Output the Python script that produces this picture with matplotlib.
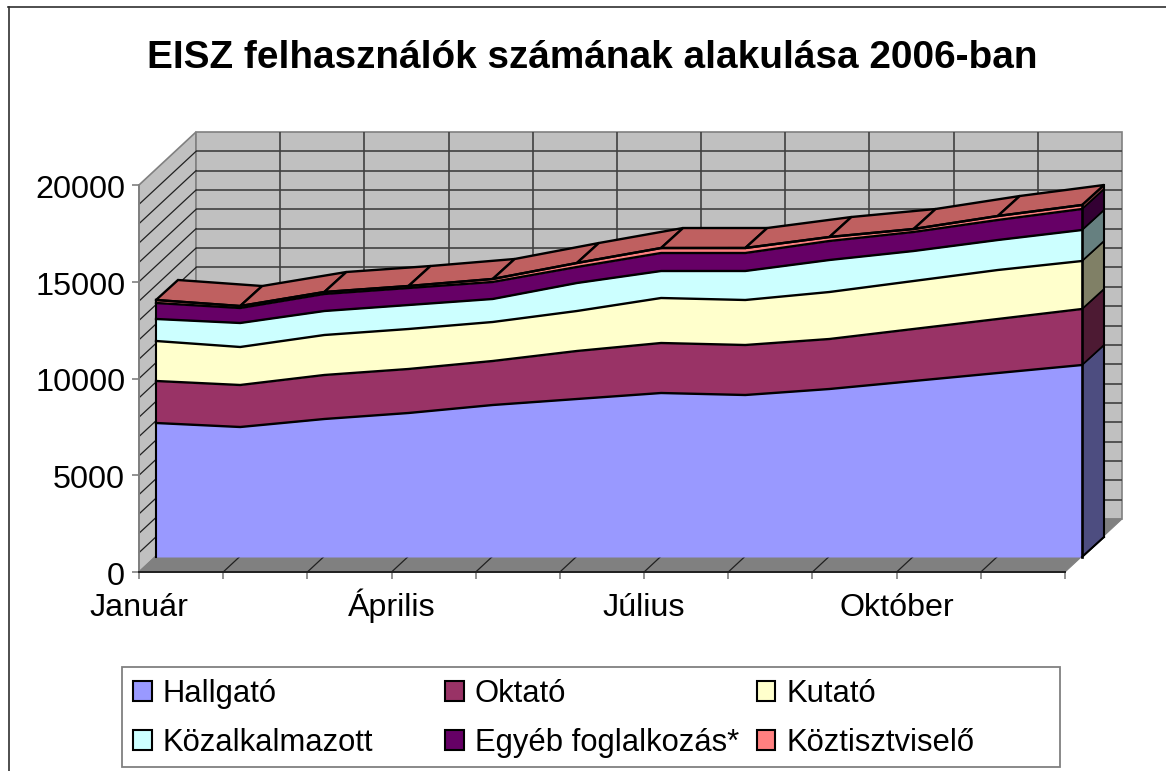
import matplotlib
matplotlib.use("Agg")
import matplotlib.pyplot as plt
from matplotlib.patches import Patch, Polygon, Rectangle
from matplotlib.transforms import Affine2D
import numpy as np

plt.rcParams['font.family'] = ['Liberation Sans', 'DejaVu Sans']

months = ["Január", "", "", "Április", "", "", "Július", "", "", "Október", "", ""]
hallgato = [6925, 6718, 7132, 7442, 7855, 8165, 8475, 8372, 8682, 9096, 9509, 9922]
oktato = [2171, 2171, 2274, 2274, 2274, 2481, 2584, 2584, 2584, 2687, 2791, 2894]
kutato = [2067, 1964, 2067, 2067, 2016, 2067, 2326, 2326, 2429, 2481, 2532, 2481]
kozalk = [1137, 1240, 1240, 1240, 1189, 1447, 1395, 1499, 1654, 1550, 1550, 1602]
egyeb = [827, 775, 879, 879, 879, 827, 930, 930, 982, 982, 1034, 1085]
kozt = [155, 103, 103, 103, 155, 207, 258, 258, 207, 155, 207, 207]
names = ["Hallgató", "Oktató", "Kutató", "Közalkalmazott", "Egyéb foglalkozás*", "Köztisztviselő"]
series = [hallgato, oktato, kutato, kozalk, egyeb, kozt]
colors = ["#9999FF", "#993366", "#FFFFCC", "#CCFFFF", "#660066", "#FF8080"]
side_colors = ["#4D4D80", "#4D1A33", "#808066", "#668080", "#330033", "#804040"]
top_color = "#BF6060"
title = "EISZ felhasználók számának alakulása 2006-ban"

W, H = 1166, 771
fig = plt.figure(figsize=(W / 100, H / 100), dpi=100, facecolor="white")
ax = fig.add_axes([139 / W, (H - 572) / H, (1065 - 139) / W, (572 - 185) / H])
ax.set_xlim(0, 11)
ax.set_ylim(0, 20000)
ax.patch.set_visible(False)
for s in ("top", "right"):
    ax.spines[s].set_visible(False)
ax.spines["left"].set_color("#808080")
ax.spines["left"].set_linewidth(1.4)
ax.spines["bottom"].set_color("#202020")
ax.spines["bottom"].set_linewidth(1.4)

x = np.arange(12)
ytop = 20000

def shift(dx, dy):
    return ax.transData + Affine2D().translate(dx, dy)

FRONT = shift(17, 15)
REAR = shift(39, 35)
WALL = shift(57, 53)
BASE = ax.transData

def poly(points, **kw):
    ax.add_patch(Polygon(points, closed=True, transform=None, clip_on=False, **kw))

# walls and floor
poly(np.vstack([BASE.transform([(0, 0), (0, ytop)]), WALL.transform([(0, ytop), (0, 0)])]),
     fc="#C0C0C0", ec="#808080", lw=1.2, zorder=1)
poly(WALL.transform([(0, 0), (11, 0), (11, ytop), (0, ytop)]),
     fc="#C0C0C0", ec="#808080", lw=1.2, zorder=1)
poly(np.vstack([BASE.transform([(0, 0), (11, 0)]), WALL.transform([(11, 0), (0, 0)])]),
     fc="#808080", ec="#808080", lw=0.8, zorder=1)

grid_kw = dict(color="#404040", lw=1.2, clip_on=False, zorder=2, solid_capstyle="butt")
for v in range(1000, 20000, 1000):
    ax.plot([0, 11], [v, v], transform=WALL, **grid_kw)
    p = np.vstack([BASE.transform((0, v)), WALL.transform((0, v))])
    ax.plot(p[:, 0], p[:, 1], transform=None, color="#202020", lw=0.9, clip_on=False, zorder=2)
for m in x[1:-1]:
    ax.plot([m, m], [0, ytop], transform=WALL, **grid_kw)
for m in x[1:-1]:
    p = np.vstack([BASE.transform((m, 0)), WALL.transform((m, 0))])
    ax.plot(p[:, 0], p[:, 1], transform=None, color="#202020", lw=0.9, clip_on=False, zorder=2)

# stacked areas, front face
cum = np.cumsum(np.array(series), axis=0)
bottoms = np.vstack([np.zeros(12), cum[:-1]])
edge = "black"
for i in range(6):
    ax.fill_between(x, bottoms[i], cum[i], transform=FRONT, color=colors[i], lw=0, clip_on=False, zorder=5)
    ax.plot(x, cum[i], transform=FRONT, color=edge, lw=1.7, clip_on=False, zorder=7)
    p = np.vstack([FRONT.transform([(11, bottoms[i][-1]), (11, cum[i][-1])]),
                   REAR.transform([(11, cum[i][-1]), (11, bottoms[i][-1])])])
    poly(p, fc=side_colors[i], ec=edge, lw=1.2, zorder=4)
# top surface
for k in range(11):
    p = np.vstack([FRONT.transform([(x[k], cum[5][k]), (x[k + 1], cum[5][k + 1])]),
                   REAR.transform([(x[k + 1], cum[5][k + 1]), (x[k], cum[5][k])])])
    poly(p, fc=top_color, ec=edge, lw=1.7, zorder=6)
# vertical edges
ax.plot([0, 0], [0, cum[5][0]], transform=FRONT, color=edge, lw=1.5, clip_on=False, zorder=8)
ax.plot([11, 11], [0, cum[5][-1]], transform=FRONT, color=edge, lw=1.9, clip_on=False, zorder=8)
ax.plot([11, 11], [0, cum[5][-1]], transform=REAR, color=edge, lw=1.5, clip_on=False, zorder=8)
p = np.vstack([FRONT.transform((11, 0)), REAR.transform((11, 0))])
ax.plot(p[:, 0], p[:, 1], transform=None, color=edge, lw=1.4, clip_on=False, zorder=8)

# axes ticks and labels
ax.set_xticks(x)
ax.set_xticklabels(months)
ax.set_yticks(range(0, 20001, 5000))
ax.tick_params(axis="y", labelsize=23.3, length=5.4, width=1.2, color="#808080", pad=4.5)
ax.tick_params(axis="x", labelsize=23.2, length=5, width=1.2, color="#808080", pad=26.7)
for lab in ax.get_xticklabels():
    lab.set_va("baseline")
for lab in ax.get_yticklabels():
    lab.set_transform(lab.get_transform() + Affine2D().translate(0, -1.5))

fig.text(592.5 / W, 1 - 68 / H, title, ha="center", va="baseline", fontsize=27.95, fontweight="bold", color="black")

# chart-area frame: cropped in the source on the right and at the bottom
fig.add_artist(plt.Line2D([8.5 / W, 8.5 / W], [0, 1 - 7 / H], color="#303030", lw=1.2))
fig.add_artist(plt.Line2D([8 / W, 1], [1 - 7 / H, 1 - 7 / H], color="#303030", lw=1.2))

# legend frame
fig.add_artist(Rectangle((122 / W, 1 - 767 / H), (1060 - 122) / W, 100 / H, transform=fig.transFigure,
                         fc="white", ec="#808080", lw=1.3, zorder=3))
# legend (filled column-first, so reorder to read across)
order = [0, 3, 1, 4, 2, 5]
handles = [Patch(facecolor=colors[i], edgecolor="black", linewidth=1.5) for i in order]
labels = [names[i] for i in order]
leg = fig.legend(handles, labels, ncol=3, loc="upper left",
                 bbox_to_anchor=(133 / W, 1 - 679 / H), bbox_transform=fig.transFigure,
                 fontsize=22.3, frameon=False,
                 borderpad=0, labelspacing=0.61, columnspacing=0.57,
                 handlelength=0.61, handleheight=0.58, handletextpad=0.355, borderaxespad=0)
leg.set_zorder(4)
leg._legend_handle_box.mode = "equal"

fig.savefig("out.png", dpi=100, facecolor="white")
